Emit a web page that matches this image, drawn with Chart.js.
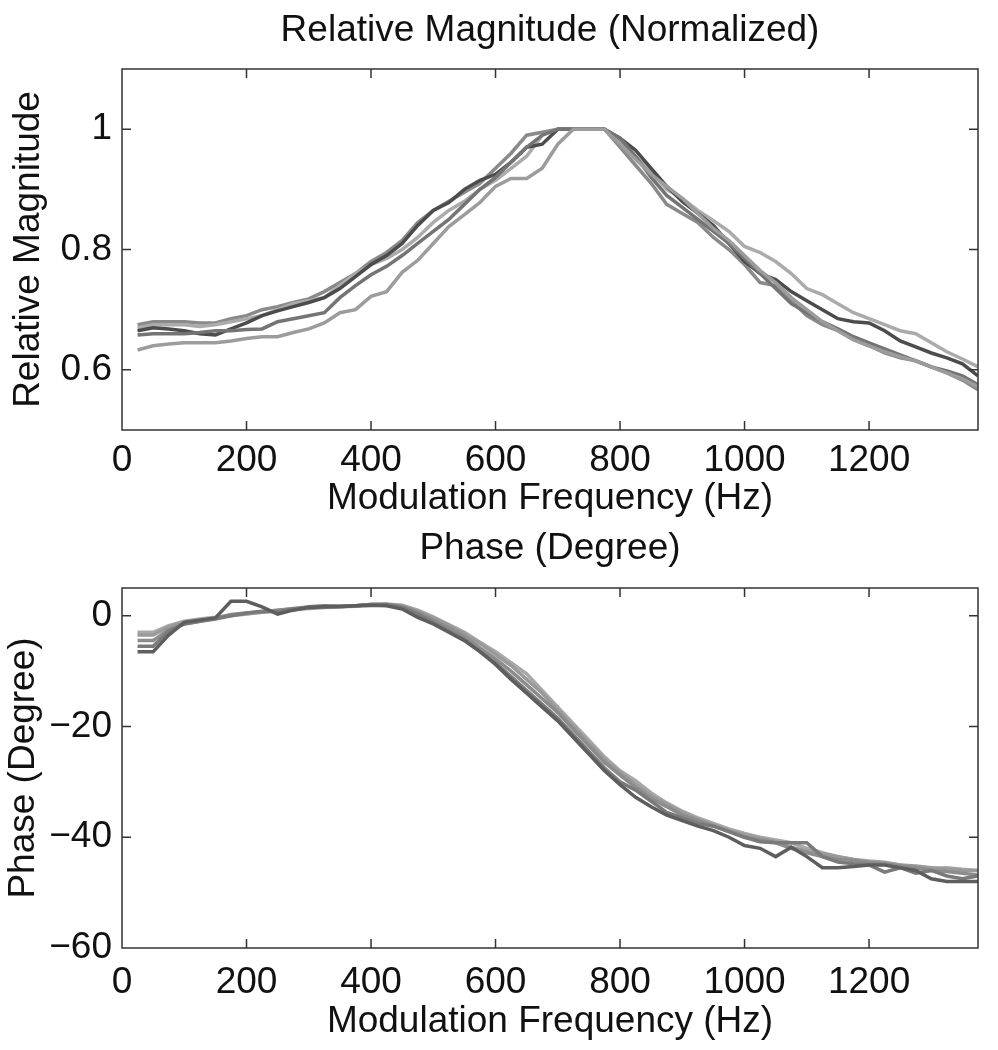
<!DOCTYPE html>
<html>
<head>
<meta charset="utf-8">
<script src="https://cdn.jsdelivr.net/npm/chart.js@4/dist/chart.umd.min.js"></script>
<style>
  html, body { margin: 0; padding: 0; background: #fff; }
  .box { position: absolute; left: 0; width: 998px; height: 525px; }
  #top { top: 0; }
  #bot { top: 525px; }
</style>
</head>
<body>
<div class="box" id="top"><canvas id="magChart"></canvas></div>
<div class="box" id="bot"><canvas id="phaseChart"></canvas></div>
<script>
// modulation frequencies (Hz), 25 .. 1375
const freqs = [25, 50, 75, 100, 125, 150, 175, 200, 225, 250, 275, 300, 325, 350, 375, 400, 425, 450, 475, 500,
  525, 550, 575, 600, 625, 650, 675, 700, 725, 750, 775, 800, 825, 850, 875, 900, 925, 950, 975, 1000,
  1025, 1050, 1075, 1100, 1125, 1150, 1175, 1200, 1225, 1250, 1275, 1300, 1325, 1350, 1375];

// relative magnitude, five measurements
const magA = [0.633, 0.64, 0.643, 0.645, 0.645, 0.645, 0.648, 0.652, 0.655, 0.655, 0.662, 0.668, 0.678, 0.695, 0.70, 0.722, 0.73, 0.762, 0.782, 0.81,
  0.838, 0.858, 0.878, 0.905, 0.918, 0.918, 0.935, 0.975, 1.0, 1.0, 1.0, 0.975, 0.95, 0.925, 0.905, 0.885, 0.86, 0.835, 0.815, 0.79,
  0.765, 0.745, 0.72, 0.70, 0.68, 0.665, 0.65, 0.64, 0.63, 0.622, 0.615, 0.605, 0.595, 0.585, 0.572];
const magB = [0.658, 0.66, 0.66, 0.66, 0.662, 0.665, 0.665, 0.667, 0.668, 0.68, 0.685, 0.69, 0.695, 0.72, 0.74, 0.758, 0.772, 0.79, 0.81, 0.83,
  0.85, 0.875, 0.90, 0.92, 0.945, 0.97, 0.99, 1.0, 1.0, 1.0, 1.0, 0.985, 0.955, 0.92, 0.89, 0.87, 0.85, 0.83, 0.81, 0.785,
  0.76, 0.735, 0.71, 0.695, 0.68, 0.668, 0.655, 0.645, 0.635, 0.625, 0.615, 0.605, 0.598, 0.59, 0.575];
const magC = [0.665, 0.67, 0.668, 0.665, 0.66, 0.658, 0.668, 0.678, 0.69, 0.698, 0.705, 0.712, 0.72, 0.735, 0.755, 0.775, 0.79, 0.81, 0.84, 0.865,
  0.878, 0.90, 0.915, 0.925, 0.945, 0.97, 0.975, 1.0, 1.0, 1.0, 1.0, 0.985, 0.965, 0.935, 0.905, 0.88, 0.86, 0.84, 0.81, 0.78,
  0.76, 0.75, 0.73, 0.715, 0.70, 0.685, 0.68, 0.678, 0.665, 0.648, 0.638, 0.628, 0.62, 0.61, 0.59];
const magD = [0.67, 0.675, 0.675, 0.675, 0.672, 0.675, 0.68, 0.685, 0.69, 0.70, 0.71, 0.715, 0.72, 0.74, 0.76, 0.775, 0.785, 0.80, 0.82, 0.845,
  0.865, 0.88, 0.90, 0.915, 0.935, 0.955, 0.99, 1.0, 1.0, 1.0, 1.0, 0.98, 0.955, 0.93, 0.90, 0.885, 0.865, 0.848, 0.83, 0.805,
  0.795, 0.78, 0.76, 0.735, 0.725, 0.71, 0.695, 0.685, 0.675, 0.665, 0.66, 0.645, 0.63, 0.618, 0.605];
const magE = [0.675, 0.68, 0.68, 0.68, 0.678, 0.678, 0.685, 0.69, 0.70, 0.705, 0.712, 0.718, 0.73, 0.745, 0.76, 0.78, 0.795, 0.815, 0.845, 0.865,
  0.88, 0.895, 0.91, 0.935, 0.96, 0.99, 0.995, 1.0, 1.0, 1.0, 1.0, 0.97, 0.94, 0.91, 0.875, 0.86, 0.845, 0.82, 0.80, 0.775,
  0.745, 0.74, 0.715, 0.69, 0.675, 0.665, 0.65, 0.64, 0.628, 0.62, 0.615, 0.605, 0.595, 0.583, 0.567];

// phase (degree), five measurements
const phA = [-6.5, -6.5, -3.5, -1.2, -0.8, -0.4, 2.6, 2.6, 1.6, 0.3, 1.0, 1.5, 1.6, 1.6, 1.8, 1.9, 1.8, 1.2, -0.3, -1.5,
  -3, -4.5, -6.5, -8.8, -11.5, -14, -16.5, -19, -22, -25, -28, -30.5, -32.8, -34.5, -36, -37, -38, -38.8, -40, -41.5,
  -42, -43.5, -41.8, -43.5, -45.5, -45.5, -45.3, -45, -45, -45.5, -46, -47.5, -48, -48, -48];
const phB = [-5.5, -5.5, -2.8, -1.5, -1, -0.6, 0, 0.5, 0.8, 0.7, 1.2, 1.6, 1.8, 1.7, 1.8, 2.0, 2.0, 1.5, 0.3, -1.2,
  -2.8, -4.3, -6.5, -8.5, -11, -13.5, -16, -18.5, -21.5, -24.5, -27.5, -30, -31.5, -33.5, -35.5, -36.5, -37.5, -38, -39, -40,
  -40.8, -41, -41, -41, -43.5, -44.5, -44.8, -45, -46.3, -45.5, -46.5, -46, -47, -47.5, -47];
const phC = [-4.5, -4.5, -2.5, -1.5, -1, -0.5, 0.2, 0.5, 0.7, 1.0, 1.3, 1.5, 1.6, 1.7, 1.8, 2.0, 2.0, 1.6, 0.6, -0.8,
  -2.2, -3.8, -5.8, -7.8, -10, -12.5, -15, -17.5, -20.5, -23.5, -26.5, -28.8, -31, -33, -34.5, -36, -37, -38, -39, -40,
  -40.5, -41, -42, -42.8, -43.5, -44, -44.2, -44.5, -44.8, -45.2, -45.5, -46, -46.2, -46.5, -46.8];
const phD = [-3.5, -3.5, -2, -1.2, -0.8, -0.4, 0, 0.3, 0.6, 0.9, 1.1, 1.3, 1.5, 1.6, 1.7, 1.9, 2.0, 1.8, 0.8, -0.4,
  -1.8, -3.3, -5, -7, -9, -11.5, -14, -17, -20, -23, -26, -28.3, -30.5, -32.5, -34, -35.5, -36.8, -37.8, -38.8, -39.6,
  -40.2, -40.8, -41.8, -42.5, -43, -43.5, -44, -44.5, -44.6, -45, -45.2, -45.5, -45.8, -46, -46];
const phE = [-3, -3, -1.8, -1, -0.6, -0.3, 0.1, 0.4, 0.7, 1.0, 1.2, 1.4, 1.6, 1.7, 1.8, 2.0, 2.1, 1.9, 1.0, -0.2,
  -1.6, -3, -4.8, -6.5, -8.5, -10.5, -13.5, -16.5, -19.5, -22.5, -25.5, -28, -29.8, -32, -33.8, -35.3, -36.5, -37.5, -38.5, -39.3,
  -40, -40.5, -41, -42, -42.8, -43.5, -44, -44.3, -44.5, -45, -45.5, -45.6, -45.5, -45.8, -46];

const freqTicks = [0, 200, 400, 600, 800, 1000, 1200];
const magTicks = [0.6, 0.8, 1];
const phaseTicks = [-60, -40, -20, 0];

const magColors = ['#9c9c9c', '#747474', '#4c4c4c', '#ababab', '#8a8a8a'];
const phaseColors = ['#5e5e5e', '#7a7a7a', '#8c8c8c', '#9a9a9a', '#a8a8a8'];

const FONT = 37;
Chart.defaults.font.family = "'Liberation Sans', Arial, sans-serif";
Chart.defaults.font.size = FONT;
Chart.defaults.color = '#111';

function toPoints(arr) {
  return freqs.map((f, i) => ({ x: f, y: arr[i] }));
}

function fmt(v) {
  return String(v).replace('-', '\u2212');
}

// title centred over the plot area (like MATLAB), not over the canvas
const titlePlugin = {
  id: 'areaTitle',
  afterDraw(chart, args, opts) {
    const { ctx, chartArea: a } = chart;
    ctx.save();
    ctx.font = FONT + "px 'Liberation Sans', Arial, sans-serif";
    ctx.fillStyle = '#111';
    ctx.textAlign = 'center';
    ctx.textBaseline = 'middle';
    ctx.fillText(opts.text, (a.left + a.right) / 2, opts.y);
    ctx.restore();
  }
};

// MATLAB style box with inward ticks on all four sides
const boxPlugin = {
  id: 'matlabBox',
  afterDatasetsDraw(chart) {
    const { ctx, chartArea: a, scales } = chart;
    const len = 9;
    ctx.save();
    ctx.strokeStyle = '#333';
    ctx.lineWidth = 1.5;
    ctx.strokeRect(a.left, a.top, a.right - a.left, a.bottom - a.top);
    ctx.beginPath();
    scales.x.ticks.forEach(t => {
      const px = scales.x.getPixelForValue(t.value);
      if (px <= a.left + 1 || px >= a.right - 1) return;
      ctx.moveTo(px, a.bottom); ctx.lineTo(px, a.bottom - len);
      ctx.moveTo(px, a.top); ctx.lineTo(px, a.top + len);
    });
    scales.y.ticks.forEach(t => {
      const py = scales.y.getPixelForValue(t.value);
      if (py <= a.top + 1 || py >= a.bottom - 1) return;
      ctx.moveTo(a.left, py); ctx.lineTo(a.left + len, py);
      ctx.moveTo(a.right, py); ctx.lineTo(a.right - len, py);
    });
    ctx.stroke();
    ctx.restore();
  }
};

function makeChart(id, title, series, colors, yMin, yMax, yTicks, yTitle, opt) {
  const ctx = document.getElementById(id).getContext('2d');
  return new Chart(ctx, {
    type: 'line',
    data: {
      datasets: series.map((s, i) => ({
        data: toPoints(s),
        borderColor: colors[i],
        borderWidth: 3.5,
        pointRadius: 0,
        tension: 0,
        fill: false
      }))
    },
    options: {
      responsive: true,
      maintainAspectRatio: false,
      animation: false,
      layout: { padding: { left: 0, right: 20, top: opt.top, bottom: 0 } },
      plugins: {
        legend: { display: false },
        tooltip: { enabled: false },
        title: { display: false },
        areaTitle: { text: title, y: opt.titleY }
      },
      scales: {
        x: {
          type: 'linear',
          min: 0,
          max: 1375,
          afterBuildTicks: s => { s.ticks = freqTicks.map(v => ({ value: v })); },
          afterFit: s => { s.height = opt.xHeight; },
          grid: { display: false, drawTicks: false },
          border: { display: false },
          ticks: { padding: opt.xTickPad, maxRotation: 0, autoSkip: false, callback: v => fmt(v) },
          title: {
            display: true,
            text: 'Modulation Frequency (Hz)',
            padding: { top: 0, bottom: opt.xTitleBottom }
          }
        },
        y: {
          min: yMin,
          max: yMax,
          afterBuildTicks: s => { s.ticks = yTicks.map(v => ({ value: v })); },
          afterFit: s => { s.width = 122; },
          grid: { display: false, drawTicks: false },
          border: { display: false },
          ticks: { padding: 10, autoSkip: false, callback: v => fmt(v) },
          title: {
            display: true,
            text: yTitle,
            padding: { top: opt.yTitleTop, bottom: 0 }
          }
        }
      }
    },
    plugins: [boxPlugin, titlePlugin]
  });
}

makeChart('magChart', 'Relative Magnitude (Normalized)',
  [magA, magB, magC, magD, magE], magColors, 0.5, 1.1, magTicks, 'Relative Magnitude',
  { top: 69, titleY: 31, xHeight: 95, xTickPad: 9, xTitleBottom: 4, yTitleTop: 7 });

makeChart('phaseChart', 'Phase (Degree)',
  [phA, phB, phC, phD, phE], phaseColors, -60, 5, phaseTicks, 'Phase (Degree)',
  { top: 63, titleY: 24, xHeight: 102, xTickPad: 13, xTitleBottom: 6, yTitleTop: 2 });
</script>
</body>
</html>
